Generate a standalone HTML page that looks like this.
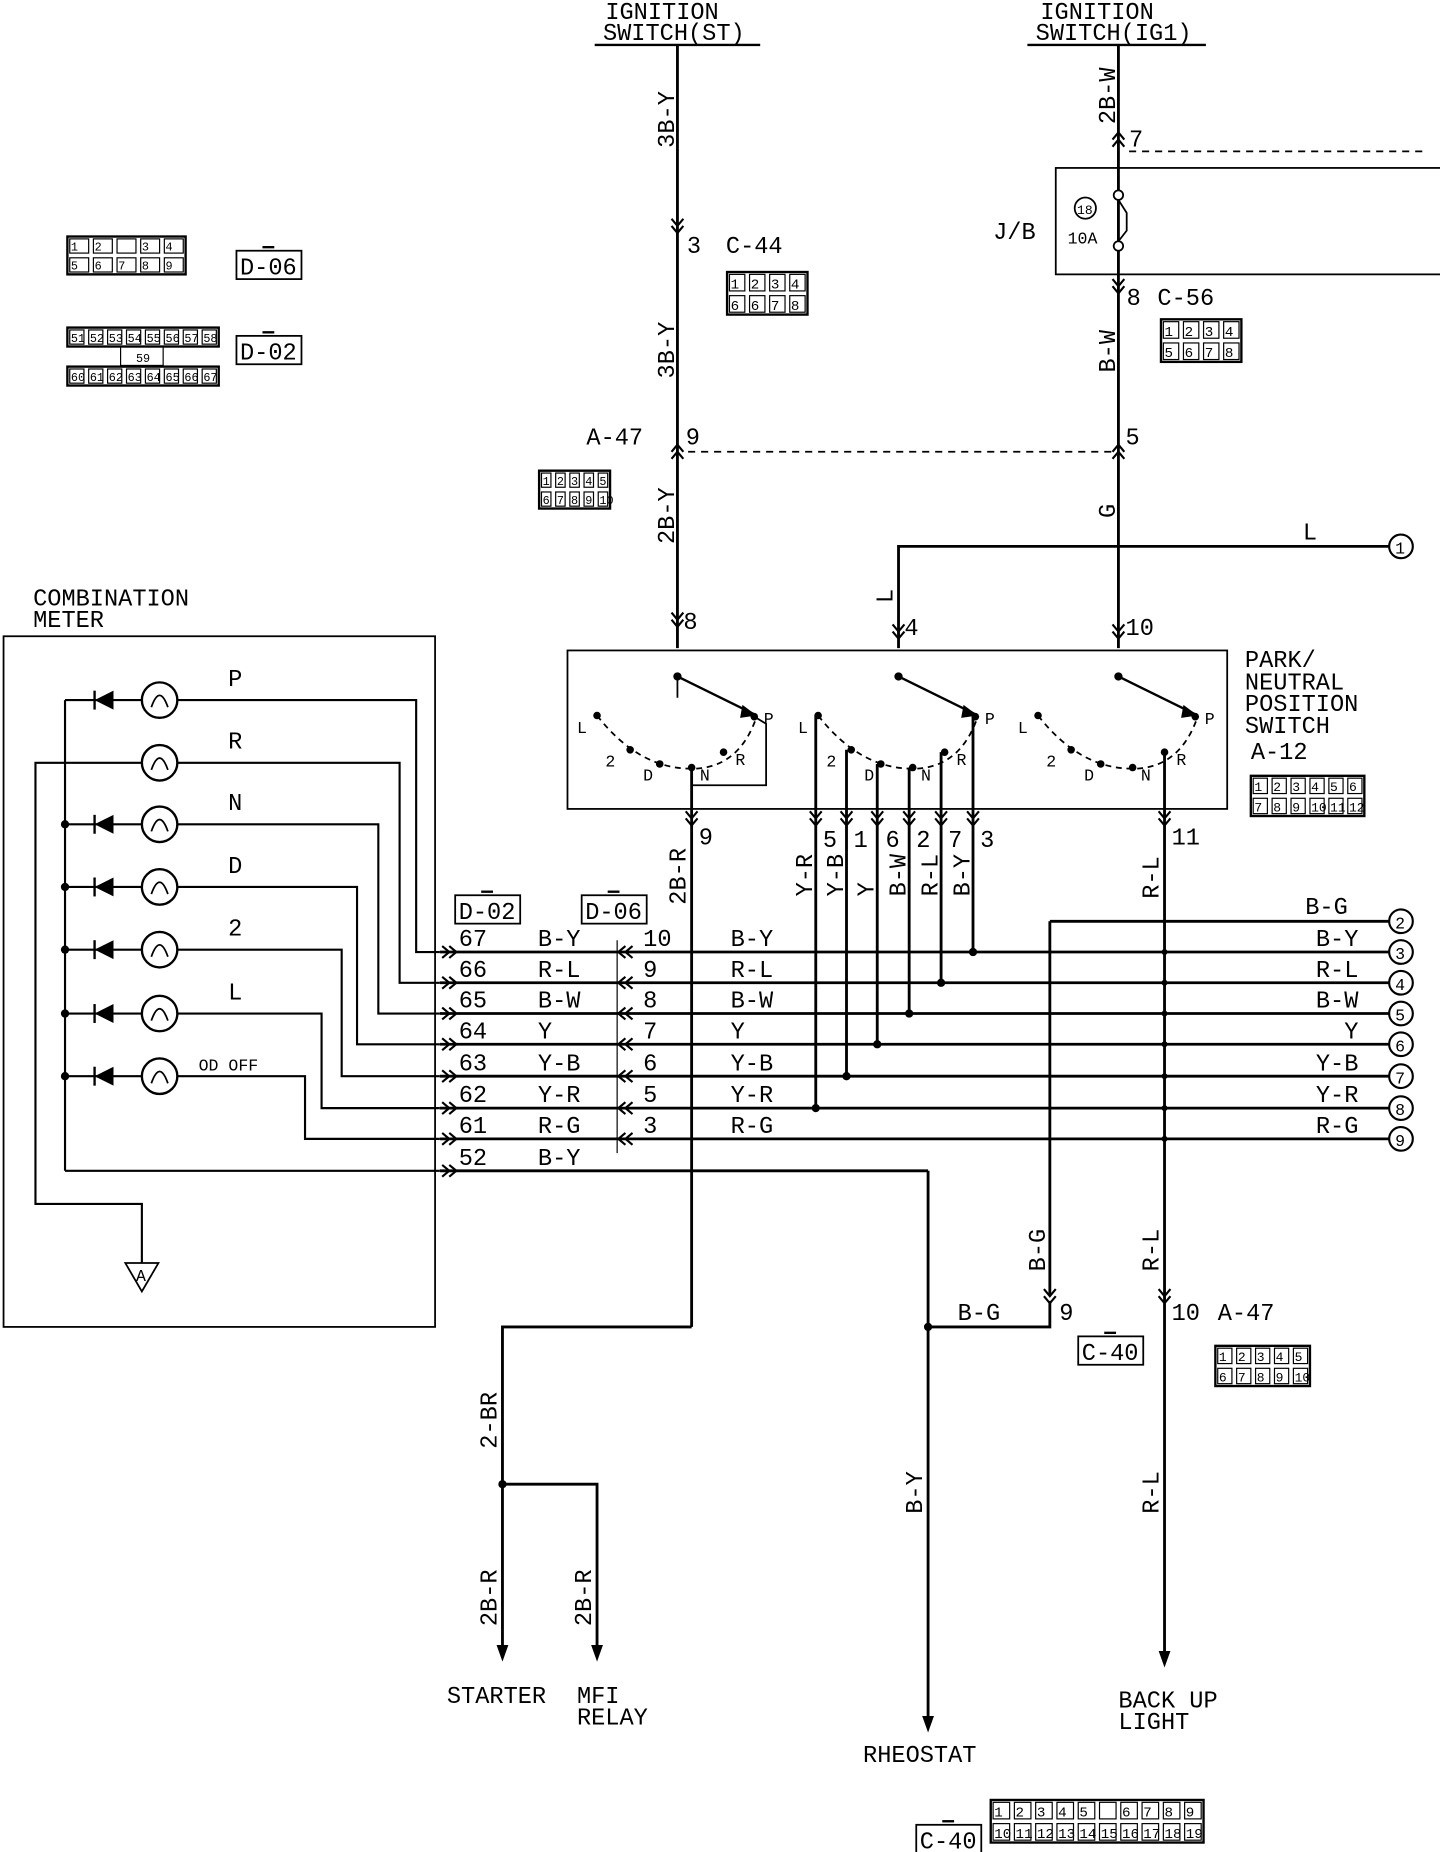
<!DOCTYPE html>
<html><head><meta charset="utf-8"><style>
html,body{margin:0;padding:0;background:#fff}
svg{display:block}
text{font-family:"Liberation Mono",monospace;font-size:20px;fill:#000}
.s{font-size:14px}
.m{font-size:17px}
</style></head><body>
<svg id="d" width="1440" height="1852" viewBox="0 0 1218 1566" preserveAspectRatio="none" xmlns="http://www.w3.org/2000/svg"></svg>
<script>
let o='';
const L=(x1,y1,x2,y2,w=2.4,da='')=>o+=`<line x1="${x1}" y1="${y1}" x2="${x2}" y2="${y2}" stroke="#000" stroke-width="${w}" ${da?`stroke-dasharray="${da}"`:''}/>`;
const P=(pts,w=2.4)=>o+=`<polyline points="${pts}" fill="none" stroke="#000" stroke-width="${w}"/>`;
const T=(x,y,s,c='',a='')=>o+=`<text x="${x}" y="${y}" class="${c}" ${a}>${s}</text>`;
const R=(x,y,s)=>o+=`<text x="0" y="0" transform="translate(${x},${y}) rotate(-90)">${s}</text>`;
const dot=(x,y,r=3.5)=>o+=`<circle cx="${x}" cy="${y}" r="${r}"/>`;
const circ=(x,y,n)=>{o+=`<circle cx="${x}" cy="${y}" r="10" fill="#fff" stroke="#000" stroke-width="1.8"/>`;T(x-5,y+6,n,'s');};
const ch=(x,y,dir)=>{for(let k=0;k<2;k++){let d=k*6;
 if(dir=='d')P(`${x-5},${y+d} ${x},${y+d+6} ${x+5},${y+d}`,1.8);
 if(dir=='u')P(`${x-5},${y+d+6} ${x},${y+d} ${x+5},${y+d+6}`,1.8);
 if(dir=='l')P(`${x+d+6},${y-5} ${x+d},${y} ${x+d+6},${y+5}`,1.8);
 if(dir=='r')P(`${x+d},${y-5} ${x+d+6},${y} ${x+d},${y+5}`,1.8);}};
const arrowD=(x,y)=>o+=`<polygon points="${x-5},${y-14} ${x+5},${y-14} ${x},${y}"/>`;
const box=(x,y,w,h,sw=1.5)=>o+=`<rect x="${x}" y="${y}" width="${w}" height="${h}" fill="none" stroke="#000" stroke-width="${sw}"/>`;
const grid=(x,y,cols,rows,cw,ch_,labels)=>{box(x,y,cols*cw,rows*ch_,2);let i=0;for(let r=0;r<rows;r++)for(let c=0;c<cols;c++){box(x+c*cw+2,y+r*ch_+2,cw-4,ch_-4,1);T(x+c*cw+3,y+r*ch_+ch_-4,labels[i++]||'','s','style="font-size:'+(ch_-6)+'px"');}};
const tag=(x,y,s)=>{box(x,y,55,24,1.5);L(x+22,y-3,x+32,y-3,2);T(x+3,y+20,s);};

T(512,16,'IGNITION');T(510,34,'SWITCH(ST)');L(503,38,643,38,2);
T(880,16,'IGNITION');T(876,34,'SWITCH(IG1)');L(869,38,1020,38,2);
L(573,38,573,548);L(946,38,946,548);
R(570,125,'3B-Y');ch(573,185,'d');T(581,214,'3');T(614,214,'C-44');
grid(615,230,4,2,17,18,['1','2','3','4','6','6','7','8']);
R(570,320,'3B-Y');
R(943,105,'2B-W');ch(946,112,'u');T(955,124,'7');
L(955,128,1205,128,1.5,'6,5');box(893,142,330,90,1.5);
o+=`<circle cx="918" cy="176" r="9" fill="none" stroke="#000" stroke-width="1.5"/>`;T(911,181,'18','s','style="font-size:11px"');T(903,206,'10A','s');
T(840,202,'J/B');
o+=`<circle cx="946" cy="165" r="4" fill="#fff" stroke="#000" stroke-width="1.5"/><circle cx="946" cy="208" r="4" fill="#fff" stroke="#000" stroke-width="1.5"/>`;
P('946,169 953,180 953,195 946,204',1.5);
ch(946,236,'d');T(953,258,'8');T(979,258,'C-56');
grid(982,270,4,2,17,18,['1','2','3','4','5','6','7','8']);
R(943,315,'B-W');
T(496,376,'A-47');ch(573,376,'u');T(580,376,'9');ch(946,376,'u');T(952,376,'5');
L(582,382,940,382,1.5,'6,5');
grid(456,398,5,2,12,16,['1','2','3','4','5','6','7','8','9','10']);
R(570,460,'2B-Y');R(943,438,'G');
P('760,548 760,462 1175,462');circ(1185,462,'1');T(1102,456,'L');R(755,510,'L');
ch(573,518,'d');T(578,532,'8');ch(760,528,'d');T(765,537,'4');ch(946,528,'d');T(952,537,'10');
box(480,550,558,134,1.5);
T(1053,564,'PARK/');T(1053,583,'NEUTRAL');T(1053,601,'POSITION');T(1053,620,'SWITCH');T(1058,642,'A-12');
grid(1058,656,6,2,16,17,['1','2','3','4','5','6','7','8','9','10','11','12']);
[0,187,373].forEach(d=>{
 const px=573+d;dot(px,572);L(px,572,640+d,605,2);o+=`<polygon points="${640+d},605 ${628+d},596 ${626+d},607"/>`;
 o+=`<path d="M${505+d},605 Q${540+d},650 ${585+d},650 Q${625+d},650 ${640+d},606" fill="none" stroke="#000" stroke-width="1.5" stroke-dasharray="5,4"/>`;
 [[505,605],[533,634],[558,646],[585,649],[612,636],[638,606]].forEach(p=>dot(p[0]+d,p[1],3.2));
 T(488+d,620,'L','s');T(512+d,648,'2','s');T(544+d,660,'D','s');T(592+d,660,'N','s');T(622+d,647,'R','s');T(646+d,612,'P','s');
});
L(573,572,573,590,1.5);
P('638,606 648,612 648,664 585,664',1.5);
L(585,649,585,1122);ch(585,686,'d');T(591,714,'9');R(580,765,'2B-R');
const sw=[[690,937,'Y-R','5'],[716,910,'Y-B','1'],[742,883,'Y','6'],[769,857,'B-W','2'],[796,831,'R-L','7'],[823,805,'B-Y','3']];
[[692,605],[720,634],[745,646],[772,649],[799,636],[825,606]].forEach((p,i)=>{L(sw[i][0],p[1],sw[i][0],sw[i][1]);ch(sw[i][0],686,'d');dot(sw[i][0],sw[i][1]);R(sw[i][0]-3,758,sw[i][2]);});
T(696,716,'5');T(722,716,'1');T(749,716,'6');T(775,716,'2');T(802,716,'7');T(829,716,'3');
L(985,636,985,1405);ch(985,686,'d');T(991,714,'11');R(980,760,'R-L');R(980,1075,'R-L');ch(985,1090,'d');T(991,1116,'10');T(1030,1116,'A-47');R(980,1280,'R-L');arrowD(985,1410);
T(946,1444,'BACK UP');T(946,1462,'LIGHT');
grid(1028,1138,5,2,16,17,['1','2','3','4','5','6','7','8','9','10']);
const rows=[[805,'67','B-Y','10','B-Y','3'],[831,'66','R-L','9','R-L','4'],[857,'65','B-W','8','B-W','5'],[883,'64','Y','7','Y','6'],[910,'63','Y-B','6','Y-B','7'],[937,'62','Y-R','5','Y-R','8'],[963,'61','R-G','3','R-G','9']];
rows.forEach(r=>{const y=r[0];L(372,y,1175,y);ch(374,y,'r');ch(523,y,'l');T(388,y-5,r[1]);T(455,y-5,r[2]);T(544,y-5,r[3]);T(618,y-5,r[4]);T(1125-(r[2].length-1)*12+12,y-5,r[2]);circ(1185,y,r[5]);dot(985,y,2.5);});
L(522,795,522,975,1);
L(888,779,1175,779);T(1104,773,'B-G');circ(1185,779,'2');L(888,779,888,1095);ch(888,1090,'d');T(896,1116,'9');R(884,1075,'B-G');
P('888,1100 888,1122 785,1122');T(810,1116,'B-G');dot(785,1122);
L(372,990,785,990);ch(374,990,'r');T(388,985,'52');T(455,985,'B-Y');L(785,990,785,1460);R(780,1280,'B-Y');arrowD(785,1465);T(730,1490,'RHEOSTAT');
tag(912,1130,'C-40');
P('585,1122 425,1122 425,1400');dot(425,1255);P('425,1255 505,1255 505,1400');R(420,1225,'2-BR');R(420,1375,'2B-R');R(500,1375,'2B-R');
arrowD(425,1405);arrowD(505,1405);T(378,1440,'STARTER');T(488,1440,'MFI');T(488,1458,'RELAY');
tag(775,1543,'C-40');
grid(838,1522,10,2,18,18,['1','2','3','4','5','','6','7','8','9','10','11','12','13','14','15','16','17','18','19','20']);
grid(57,200,5,2,20,16,['1','2','','3','4','5','6','7','8','9','10']);
tag(200,212,'D-06');tag(200,284,'D-02');
grid(57,277,8,1,16,16,['51','52','53','54','55','56','57','58']);box(102,293,36,16,1);T(115,306,'59','s','style="font-size:10px"');
grid(57,310,8,1,16,16,['60','61','62','63','64','65','66','67']);
tag(385,757,'D-02');tag(492,757,'D-06');
T(28,512,'COMBINATION');T(28,530,'METER');box(3,538,365,584,1.5);
const lr=[[592,'P',352,805,1],[645,'R',338,831,0],[697,'N',320,857,1],[750,'D',302,883,1],[803,'2',289,910,1],[857,'L',272,937,1],[910,'OD OFF',258,963,1]];
lr.forEach(r=>{const y=r[0];o+=`<circle cx="135" cy="${y}" r="15" fill="#fff" stroke="#000" stroke-width="2"/><path d="M128,${y+6} Q135,${y-14} 142,${y+6}" fill="none" stroke="#000" stroke-width="1.5"/>`;
 P(`150,${y} ${r[2]},${y} ${r[2]},${r[3]} 372,${r[3]}`,1.8);
 if(r[4]){L(55,y,120,y,1.8);o+=`<polygon points="80,${y} 96,${y-8} 96,${y+8}"/>`;L(80,y-8,80,y+8,2);if(y>600)dot(55,y);}
 T(r[1].length>1?168:193,y-(r[1].length>1?5:12),r[1],r[1].length>1?'s':'');});
L(55,592,55,990,1.8);L(55,990,372,990,1.8);
P('120,645 30,645 30,1018 120,1018 120,1068',1.8);
o+=`<polygon points="106,1068 134,1068 120,1092" fill="#fff" stroke="#000" stroke-width="1.5"/>`;T(115,1083,'A','s');
document.getElementById('d').innerHTML=o;
</script>
</body></html>
